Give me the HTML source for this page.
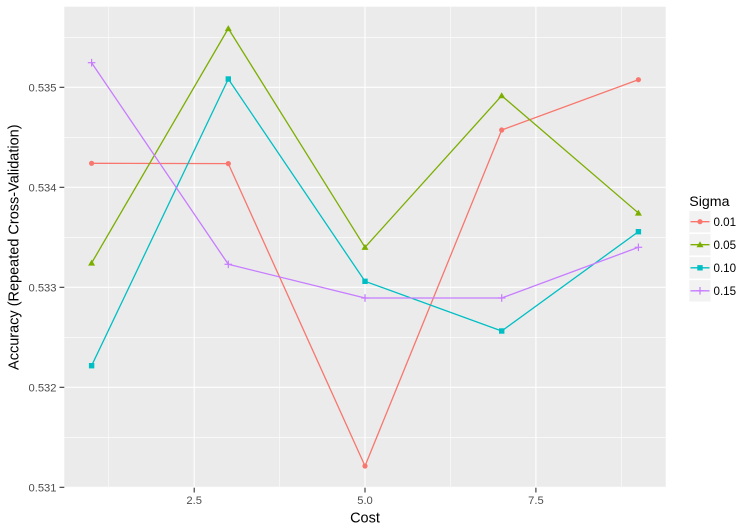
<!DOCTYPE html>
<html>
<head>
<meta charset="utf-8">
<style>
  html, body { margin: 0; padding: 0; background: #ffffff; }
  svg { display: block; }
  text { font-family: "Liberation Sans", Arial, sans-serif; }
</style>
</head>
<body>
<svg width="752" height="529" viewBox="0 0 752 529" xmlns="http://www.w3.org/2000/svg">
  <rect x="0" y="0" width="752" height="529" fill="#ffffff"/>
  <!-- panel -->
  <rect x="64.3" y="6.7" width="601.4" height="481" fill="#EBEBEB"/>
  <!-- minor gridlines -->
  <g stroke="#ffffff" stroke-width="0.55" fill="none">
    <line x1="64.3" x2="665.7" y1="37.3" y2="37.3"/>
    <line x1="64.3" x2="665.7" y1="137.3" y2="137.3"/>
    <line x1="64.3" x2="665.7" y1="237.3" y2="237.3"/>
    <line x1="64.3" x2="665.7" y1="337.3" y2="337.3"/>
    <line x1="64.3" x2="665.7" y1="437.3" y2="437.3"/>
    <line y1="6.7" y2="487.7" x1="108.7" x2="108.7"/>
    <line y1="6.7" y2="487.7" x1="279.6" x2="279.6"/>
    <line y1="6.7" y2="487.7" x1="450.4" x2="450.4"/>
    <line y1="6.7" y2="487.7" x1="621.3" x2="621.3"/>
  </g>
  <!-- major gridlines -->
  <g stroke="#ffffff" stroke-width="1.1" fill="none">
    <line x1="64.3" x2="665.7" y1="87.3" y2="87.3"/>
    <line x1="64.3" x2="665.7" y1="187.3" y2="187.3"/>
    <line x1="64.3" x2="665.7" y1="287.3" y2="287.3"/>
    <line x1="64.3" x2="665.7" y1="387.3" y2="387.3"/>
    <line x1="64.3" x2="665.7" y1="487.3" y2="487.3"/>
    <line y1="6.7" y2="487.7" x1="194.2" x2="194.2"/>
    <line y1="6.7" y2="487.7" x1="365.0" x2="365.0"/>
    <line y1="6.7" y2="487.7" x1="535.9" x2="535.9"/>
  </g>

  <!-- series lines -->
  <g fill="none" stroke-width="1.3" stroke-linejoin="round">
    <polyline stroke="#F8766D" points="91.6,163.3 228.3,163.6 365.0,466 501.7,130 638.4,79.7"/>
    <polyline stroke="#7CAE00" points="91.6,263 228.3,28.5 365.0,247.3 501.7,95.7 638.4,213"/>
    <polyline stroke="#00BFC4" points="91.6,365.7 228.3,79 365.0,281.3 501.7,331 638.4,231.7"/>
    <polyline stroke="#C77CFF" points="91.6,62.7 228.3,264.3 365.0,298 501.7,298 638.4,247.3"/>
  </g>

  <!-- red circles -->
  <g fill="#F8766D">
    <circle cx="91.6" cy="163.3" r="2.6"/>
    <circle cx="228.3" cy="163.6" r="2.6"/>
    <circle cx="365.0" cy="466" r="2.6"/>
    <circle cx="501.7" cy="130" r="2.6"/>
    <circle cx="638.4" cy="79.7" r="2.6"/>
  </g>
  <!-- green triangles -->
  <g fill="#7CAE00">
    <polygon points="91.6,259.6 95.1,265.6 88.1,265.6"/>
    <polygon points="228.3,25.1 231.8,31.1 224.8,31.1"/>
    <polygon points="365.0,243.9 368.5,249.9 361.5,249.9"/>
    <polygon points="501.7,92.3 505.2,98.3 498.2,98.3"/>
    <polygon points="638.4,209.6 641.9,215.6 634.9,215.6"/>
  </g>
  <!-- cyan squares -->
  <g fill="#00BFC4">
    <rect x="88.9" y="363" width="5.4" height="5.4"/>
    <rect x="225.6" y="76.3" width="5.4" height="5.4"/>
    <rect x="362.3" y="278.6" width="5.4" height="5.4"/>
    <rect x="499.0" y="328.3" width="5.4" height="5.4"/>
    <rect x="635.7" y="229" width="5.4" height="5.4"/>
  </g>
  <!-- purple plus -->
  <g stroke="#C77CFF" stroke-width="1.2">
    <line x1="87.8" x2="95.4" y1="62.7" y2="62.7"/><line x1="91.6" x2="91.6" y1="58.9" y2="66.5"/>
    <line x1="224.5" x2="232.1" y1="264.3" y2="264.3"/><line x1="228.3" x2="228.3" y1="260.5" y2="268.1"/>
    <line x1="361.2" x2="368.8" y1="298" y2="298"/><line x1="365.0" x2="365.0" y1="294.2" y2="301.8"/>
    <line x1="497.9" x2="505.5" y1="298" y2="298"/><line x1="501.7" x2="501.7" y1="294.2" y2="301.8"/>
    <line x1="634.6" x2="642.2" y1="247.3" y2="247.3"/><line x1="638.4" x2="638.4" y1="243.5" y2="251.1"/>
  </g>

  <!-- axis ticks -->
  <g stroke="#333333" stroke-width="1.1">
    <line x1="59.5" x2="64.3" y1="87.3" y2="87.3"/>
    <line x1="59.5" x2="64.3" y1="187.3" y2="187.3"/>
    <line x1="59.5" x2="64.3" y1="287.3" y2="287.3"/>
    <line x1="59.5" x2="64.3" y1="387.3" y2="387.3"/>
    <line x1="59.5" x2="64.3" y1="487.3" y2="487.3"/>
    <line x1="194.2" x2="194.2" y1="487.7" y2="492.5"/>
    <line x1="365.0" x2="365.0" y1="487.7" y2="492.5"/>
    <line x1="535.9" x2="535.9" y1="487.7" y2="492.5"/>
  </g>

  <!-- y tick labels -->
  <g fill="#4D4D4D" font-size="11.2" text-anchor="end">
    <text x="56.5" y="91.3">0.535</text>
    <text x="56.5" y="191.3">0.534</text>
    <text x="56.5" y="291.3">0.533</text>
    <text x="56.5" y="391.3">0.532</text>
    <text x="56.5" y="491.3">0.531</text>
  </g>
  <!-- x tick labels -->
  <g fill="#4D4D4D" font-size="11.2" text-anchor="middle">
    <text x="194.2" y="503.8">2.5</text>
    <text x="365.0" y="503.8">5.0</text>
    <text x="535.9" y="503.8">7.5</text>
  </g>

  <!-- axis titles -->
  <text x="365" y="522.3" font-size="14.5" text-anchor="middle" fill="#000">Cost</text>
  <text transform="translate(18.5,247.2) rotate(-90)" font-size="14.5" text-anchor="middle" fill="#000">Accuracy (Repeated Cross-Validation)</text>

  <!-- legend -->
  <text x="689.3" y="206" font-size="14.2" fill="#000">Sigma</text>
  <g fill="#F2F2F2" stroke="#ffffff" stroke-width="1.2">
    <rect x="688.7" y="210.5" width="22.5" height="22.5"/>
    <rect x="688.7" y="233.5" width="22.5" height="22.5"/>
    <rect x="688.7" y="256.6" width="22.5" height="22.5"/>
    <rect x="688.7" y="279.6" width="22.5" height="22.5"/>
  </g>
  <g stroke-width="1.3">
    <line x1="690.5" x2="709.5" y1="221.7" y2="221.7" stroke="#F8766D"/>
    <line x1="690.5" x2="709.5" y1="244.7" y2="244.7" stroke="#7CAE00"/>
    <line x1="690.5" x2="709.5" y1="267.8" y2="267.8" stroke="#00BFC4"/>
    <line x1="690.5" x2="709.5" y1="290.8" y2="290.8" stroke="#C77CFF"/>
  </g>
  <circle cx="700" cy="221.7" r="2.6" fill="#F8766D"/>
  <polygon points="700,241.3 703.5,247.3 696.5,247.3" fill="#7CAE00"/>
  <rect x="697.3" y="265.1" width="5.4" height="5.4" fill="#00BFC4"/>
  <g stroke="#C77CFF" stroke-width="1.2">
    <line x1="696.2" x2="703.8" y1="290.8" y2="290.8"/>
    <line x1="700" x2="700" y1="287" y2="294.6"/>
  </g>
  <g fill="#000" font-size="11.6">
    <text x="713.5" y="225.8">0.01</text>
    <text x="713.5" y="248.8">0.05</text>
    <text x="713.5" y="271.9">0.10</text>
    <text x="713.5" y="294.9">0.15</text>
  </g>
</svg>
</body>
</html>
